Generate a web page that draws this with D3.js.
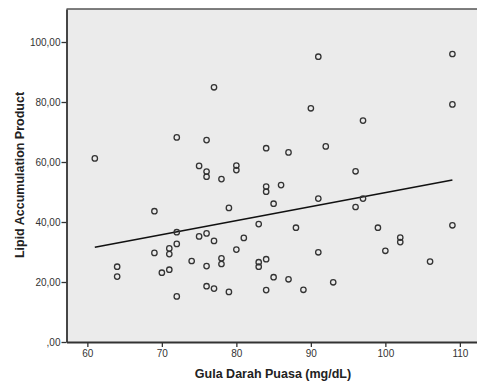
<!DOCTYPE html>
<html>
<head>
<meta charset="utf-8">
<script src="https://cdn.jsdelivr.net/npm/d3@7"></script>
<style>
  body { margin: 0; background: #fff; }
  svg { display: block; }
</style>
</head>
<body>
<div id="chart"></div>
<script>
// Gula Darah Puasa (mg/dL) vs Lipid Accumulation Product
const gdp = [61, 64, 64, 69, 69, 70, 71, 71, 71, 72, 72, 72, 72, 74, 75, 75,
  76, 76, 76, 76, 76, 76, 77, 77, 77, 78, 78, 78, 79, 79, 80, 80, 80, 81,
  83, 83, 83, 84, 84, 84, 84, 84, 85, 85, 86, 87, 87, 88, 89, 90, 91, 91,
  91, 92, 93, 96, 96, 97, 97, 99, 100, 102, 102, 106, 109, 109, 109];
const lap = [61.2, 25.1, 21.8, 43.6, 29.7, 23.1, 31.2, 29.3, 24.1, 68.2, 36.6, 32.7, 15.2, 27.0, 58.7, 35.2,
  67.3, 56.8, 55.1, 36.2, 25.3, 18.6, 84.9, 33.7, 17.8, 54.3, 27.9, 26.0, 44.7, 16.7, 58.8, 57.3, 30.8, 34.7,
  39.3, 26.6, 25.1, 64.6, 51.8, 50.1, 27.6, 17.3, 46.1, 21.6, 52.3, 63.2, 20.9, 38.1, 17.4, 77.9, 95.1, 47.8,
  29.9, 65.2, 19.9, 56.9, 45.0, 73.8, 47.8, 38.1, 30.4, 34.8, 33.3, 26.8, 96.0, 79.2, 38.9];

// fit line end points (x, y)
const fitX = [61, 109];
const fitY = [31.6, 54.0];

const xTicks = [60, 70, 80, 90, 100, 110];
const yTicks = [0, 20, 40, 60, 80, 100];

const W = 477, H = 385;
const plot = {left: 66.5, top: 9, right: 477, bottom: 342};

const svg = d3.select("#chart").append("svg")
    .attr("width", W)
    .attr("height", H);

const x = d3.scaleLinear()
    .domain([57.2, 112.3])
    .range([plot.left, plot.right]);

const y = d3.scaleLinear()
    .domain([0, 111])
    .range([plot.bottom, plot.top]);

const fmt = d3.formatLocale({decimal: ",", thousands: ".", grouping: [3], currency: ["", ""]}).format(".2f");
const yFmt = d => fmt(d).replace(/^0/, "");

// plot background
svg.append("rect")
    .attr("x", plot.left)
    .attr("y", plot.top)
    .attr("width", plot.right - plot.left)
    .attr("height", plot.bottom - plot.top)
    .attr("fill", "#ebebeb");

svg.append("line")
    .attr("x1", plot.left).attr("x2", plot.right)
    .attr("y1", plot.top).attr("y2", plot.top)
    .attr("stroke", "#555")
    .attr("stroke-width", 1.5);

// axes
const xAxis = svg.append("g")
    .attr("transform", "translate(0," + plot.bottom + ")")
    .call(d3.axisBottom(x).tickValues(xTicks).tickSize(5).tickSizeOuter(0).tickFormat(d3.format("d")));

const yAxis = svg.append("g")
    .attr("transform", "translate(" + plot.left + ",0)")
    .call(d3.axisLeft(y).tickValues(yTicks).tickSize(5).tickSizeOuter(0).tickFormat(yFmt));

[xAxis, yAxis].forEach(g => {
    g.select(".domain").attr("stroke", "#333").attr("stroke-width", 1.8);
    g.selectAll(".tick line").attr("stroke", "#333").attr("stroke-width", 1.3);
    g.selectAll(".tick text")
        .attr("fill", "#333")
        .style("font-family", "'Liberation Sans', Arial, sans-serif")
        .style("font-size", "10px");
});
xAxis.selectAll(".tick text").attr("dy", "0.71em").attr("y", 8);
yAxis.selectAll(".tick text").attr("x", -6);

// fit line
svg.append("line")
    .attr("x1", x(fitX[0])).attr("y1", y(fitY[0]))
    .attr("x2", x(fitX[1])).attr("y2", y(fitY[1]))
    .attr("stroke", "#111")
    .attr("stroke-width", 1.6);

// points
svg.append("g").selectAll("circle")
    .data(gdp.map((g, i) => ({x: g, y: lap[i]})))
    .enter().append("circle")
    .attr("cx", d => x(d.x))
    .attr("cy", d => y(d.y))
    .attr("r", 2.7)
    .attr("fill", "none")
    .attr("stroke", "#333")
    .attr("stroke-width", 1.3);

// axis titles
svg.append("text")
    .attr("x", 273)
    .attr("y", 377.5)
    .attr("text-anchor", "middle")
    .style("font-family", "'Liberation Sans', Arial, sans-serif")
    .style("font-size", "12.5px")
    .style("font-weight", "bold")
    .attr("fill", "#222")
    .text("Gula Darah Puasa (mg/dL)");

svg.append("text")
    .attr("transform", "translate(24,175) rotate(-90)")
    .attr("text-anchor", "middle")
    .style("font-family", "'Liberation Sans', Arial, sans-serif")
    .style("font-size", "12.5px")
    .style("font-weight", "bold")
    .attr("fill", "#222")
    .text("Lipid Accumulation Product");
</script>
</body>
</html>
